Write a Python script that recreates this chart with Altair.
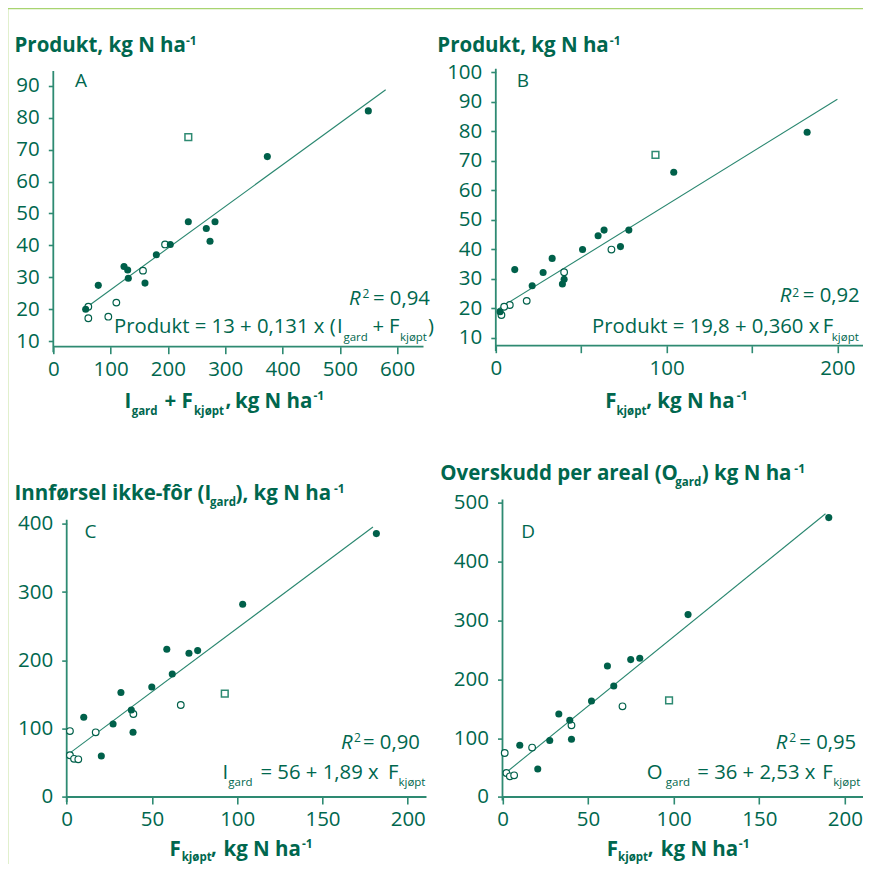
import altair as alt
import pandas as pd

FONT = "Open Sans"
TEXT_C = "#00674e"
PT_C = "#00604a"
AX_C = "#2e8a72"
LN_C = "#2a8770"
BORDER_C = "#a8d470"

# ---------------- data ----------------
# Panel A: Produkt vs Igard + Fkjøpt
A_fill_x = [549.7, 373.5, 235.6, 282.2, 267.0, 273.5, 204.2, 179.8, 123.4, 129.8, 130.9, 160.0, 78.5, 56.5]
A_fill_y = [82.1, 67.8, 47.4, 47.4, 45.3, 41.3, 40.3, 37.1, 33.4, 32.3, 29.7, 28.2, 27.5, 20.0]
A_open_x = [195.0, 156.5, 110.0, 96.0, 61.1, 61.1]
A_open_y = [40.3, 32.1, 22.1, 17.7, 17.2, 20.8]
A_sq_x = [235.6]
A_sq_y = [73.9]
A_line_x = [57, 580]
A_line_y = [20.5, 88.7]

# Panel B: Produkt vs Fkjøpt
B_fill_x = [182.3, 104.2, 77.9, 63.4, 59.9, 73.0, 50.8, 33.0, 11.1, 27.7, 40.0, 39.0, 21.3, 2.5]
B_fill_y = [79.7, 66.1, 46.5, 46.5, 44.6, 40.9, 39.9, 36.9, 33.1, 32.1, 29.8, 28.2, 27.6, 18.8]
B_open_x = [67.7, 40.0, 18.1, 8.2, 4.9, 3.3]
B_open_y = [39.9, 32.2, 22.5, 21.1, 20.5, 17.7]
B_sq_x = [93.5]
B_sq_y = [72.0]
B_line_x = [0.5, 200]
B_line_y = [19.4, 90.9]

# Panel C: Igard vs Fkjøpt
C_fill_x = [181.6, 103.2, 58.7, 71.7, 76.8, 61.9, 49.9, 31.8, 37.9, 10.0, 27.2, 38.9, 20.3]
C_fill_y = [385.6, 282.1, 216.3, 210.4, 214.3, 180.1, 161.1, 152.9, 127.4, 116.7, 106.9, 94.7, 60.0]
C_open_x = [66.9, 39.1, 17.0, 1.9, 4.3, 6.8, 1.9]
C_open_y = [134.7, 121.5, 94.7, 61.1, 55.9, 55.2, 96.5]
C_sq_x = [92.7]
C_sq_y = [151.4]
C_line_x = [1.4, 179.6]
C_line_y = [63.5, 395.3]

# Panel D: Ogard vs Fkjøpt
D_fill_x = [190.6, 108.4, 61.3, 74.9, 80.2, 65.0, 52.0, 32.9, 39.3, 27.6, 40.3, 10.1, 20.6]
D_fill_y = [474.4, 309.7, 222.4, 233.3, 235.5, 188.5, 163.0, 141.0, 130.2, 95.8, 98.0, 87.8, 47.5]
D_open_x = [70.1, 40.3, 17.3, 1.3, 2.3, 4.3, 6.8]
D_open_y = [154.0, 121.7, 83.9, 74.7, 40.7, 35.1, 36.8]
D_sq_x = [97.3]
D_sq_y = [164.2]
D_line_x = [1.3, 188.7]
D_line_y = [39.7, 481.0]

A_xticks = [0, 100, 200, 300, 400, 500, 600]
A_yticks = [10, 20, 30, 40, 50, 60, 70, 80, 90]
B_xticks = [0, 50, 100, 150, 200]
B_yticks = [10, 20, 30, 40, 50, 60, 70, 80, 90, 100]
C_xticks = [0, 50, 100, 150, 200]
C_yticks = [0, 100, 200, 300, 400]
D_xticks = [0, 50, 100, 150, 200]
D_yticks = [0, 100, 200, 300, 400, 500]

DUMMY = pd.DataFrame({"a": [0]})

# text pieces: (page x, page baseline y, text, size, weight, style)
B_ = "bold"
N_ = "normal"
I_ = "italic"
TS = 20.5    # bold titles
TSUB = 11.5  # bold subscripts
TSUP = 12    # superscripts
ES = 20.3    # equation text
ESUB = 11.5  # equation subscripts
LS = 19      # panel letters

TXT_A = [
    (15.5, 51.7, "Produkt, kg N ha", TS, B_, N_),
    (187.0, 45.0, "-1", TSUP, B_, N_),
    (76.0, 87.3, "A", LS, N_, N_),
    (350.0, 305.0, "R", ES, N_, I_),
    (363.5, 297.5, "2", TSUP, N_, N_),
    (374.0, 305.0, "= 0,94", ES, N_, N_),
    (115.0, 333.3, "Produkt = 13 + 0,131 x (", ES, N_, N_),
    (338.0, 333.3, "I", ES, N_, N_),
    (344.5, 340.5, "gard", ESUB, N_, N_),
    (373.5, 333.3, "+", ES, N_, N_),
    (390.0, 333.3, "F", ES, N_, N_),
    (401.0, 340.5, "kjøpt", ESUB, N_, N_),
    (429.0, 333.3, ")", ES, N_, N_),
    (125.5, 408.3, "I", TS, B_, N_),
    (132.7, 415.0, "gard", TSUB, B_, N_),
    (165.5, 408.3, "+ F", TS, B_, N_),
    (195.0, 415.0, "kjøpt", TSUB, B_, N_),
    (226.5, 406.0, ",", TS, B_, N_),
    (236.0, 408.3, "kg N ha", TS, B_, N_),
    (314.5, 400.0, "-1", TSUP, B_, N_),
]
TXT_B = [
    (437.5, 51.7, "Produkt, kg N ha", TS, B_, N_),
    (610.0, 45.0, "-1", TSUP, B_, N_),
    (517.0, 86.5, "B", LS, N_, N_),
    (780.0, 301.7, "R", ES, N_, I_),
    (792.5, 297.0, "2", TSUP, N_, N_),
    (803.0, 301.7, "= 0,92", ES, N_, N_),
    (592.3, 333.3, "Produkt = 19,8 + 0,360 x", ES, N_, N_),
    (823.0, 333.3, "F", ES, N_, N_),
    (832.0, 340.5, "kjøpt", ESUB, N_, N_),
    (605.5, 408.3, "F", TS, B_, N_),
    (616.7, 415.0, "kjøpt", TSUB, B_, N_),
    (646.5, 406.0, ",", TS, B_, N_),
    (657.5, 408.3, "kg N ha", TS, B_, N_),
    (737.0, 400.0, "-1", TSUP, B_, N_),
]
TXT_C = [
    (15.5, 500.0, "Innførsel ikke-fôr (I", TS, B_, N_),
    (211.0, 506.0, "gard", TSUB, B_, N_),
    (236.5, 500.0, "), kg N ha", TS, B_, N_),
    (335.0, 493.0, "-1", TSUP, B_, N_),
    (85.5, 537.3, "C", LS, N_, N_),
    (342.0, 748.3, "R", ES, N_, I_),
    (355.0, 741.5, "2", TSUP, N_, N_),
    (364.0, 748.3, "= 0,90", ES, N_, N_),
    (223.5, 778.3, "I", ES, N_, N_),
    (229.3, 785.5, "gard", ESUB, N_, N_),
    (261.5, 778.3, "= 56 + 1,89 x", ES, N_, N_),
    (388.9, 778.3, "F", ES, N_, N_),
    (399.5, 785.5, "kjøpt", ESUB, N_, N_),
    (170.5, 855.5, "F", TS, B_, N_),
    (182.7, 861.0, "kjøpt", TSUB, B_, N_),
    (212.0, 853.5, ",", TS, B_, N_),
    (224.5, 855.5, "kg N ha", TS, B_, N_),
    (303.0, 847.5, "-1", TSUP, B_, N_),
]
TXT_D = [
    (440.5, 480.0, "Overskudd per areal (O", TS, B_, N_),
    (675.5, 486.0, "gard", TSUB, B_, N_),
    (702.0, 480.0, ") kg N ha", TS, B_, N_),
    (794.5, 473.0, "-1", TSUP, B_, N_),
    (521.5, 537.3, "D", LS, N_, N_),
    (776.0, 748.3, "R", ES, N_, I_),
    (789.5, 741.5, "2", TSUP, N_, N_),
    (799.5, 748.3, "= 0,95", ES, N_, N_),
    (647.0, 778.3, "O", ES, N_, N_),
    (666.0, 785.5, "gard", ESUB, N_, N_),
    (697.5, 778.3, "= 36 + 2,53 x", ES, N_, N_),
    (822.5, 778.3, "F", ES, N_, N_),
    (833.5, 785.5, "kjøpt", ESUB, N_, N_),
    (607.0, 855.5, "F", TS, B_, N_),
    (618.3, 861.0, "kjøpt", TSUB, B_, N_),
    (648.0, 853.5, ",", TS, B_, N_),
    (661.0, 855.5, "kg N ha", TS, B_, N_),
    (739.0, 847.5, "-1", TSUP, B_, N_),
]

PANELS = {
    "A": dict(origin=(54.3, 70.0), xdom=[0, 646], ydom=[8.3, 94.9], w=370.2, h=276.7,
              xticks=A_xticks, yticks=A_yticks, yoff=0, xlab="datum.label",
              vline=[6.6, 94.6], hline=[0, 646, 8.3],
              fill=(A_fill_x, A_fill_y), opn=(A_open_x, A_open_y), sq=(A_sq_x, A_sq_y),
              line=(A_line_x, A_line_y), txt=TXT_A),
    "B": dict(origin=(496.0, 70.0), xdom=[0, 216], ydom=[7.29, 100.8], w=368.9, h=275.7,
              xticks=B_xticks, yticks=B_yticks, yoff=0,
              xlab="datum.value % 100 === 0 ? datum.label : ''",
              vline=[5.5, 101.2], hline=[0, 216, 7.29],
              fill=(B_fill_x, B_fill_y), opn=(B_open_x, B_open_y), sq=(B_sq_x, B_sq_y),
              line=(B_line_x, B_line_y), txt=TXT_B),
    "C": dict(origin=(54.3, 499.3), xdom=[-7.86, 211], ydom=[0, 435.4], w=373.2, h=297.4,
              xticks=C_xticks, yticks=C_yticks, yoff=-13.4, xlab="datum.label",
              vline=[-7.5, 406], hline=[0, 211, 0],
              fill=(C_fill_x, C_fill_y), opn=(C_open_x, C_open_y), sq=(C_sq_x, C_sq_y),
              line=(C_line_x, C_line_y), txt=TXT_C),
    "D": dict(origin=(496.0, 499.3), xdom=[-3.91, 211], ydom=[0, 505], w=367.9, h=297.4,
              xticks=D_xticks, yticks=D_yticks, yoff=-6.7, xlab="datum.label",
              vline=[-6.0, 505], hline=[0, 211, 0],
              fill=(D_fill_x, D_fill_y), opn=(D_open_x, D_open_y), sq=(D_sq_x, D_sq_y),
              line=(D_line_x, D_line_y), txt=TXT_D),
}


def make_panel(key, extra=None):
    P = PANELS[key]
    ox, oy = P["origin"]
    xsc = alt.Scale(domain=P["xdom"], nice=False, zero=False)
    ysc = alt.Scale(domain=P["ydom"], nice=False, zero=False)
    xax = alt.Axis(values=P["xticks"], title=None, domain=False, grid=False,
                   tickColor=AX_C, tickWidth=1.6, tickSize=7, labelPadding=6,
                   labelFont=FONT, labelFontSize=20.5, labelColor=TEXT_C,
                   labelExpr=P["xlab"], labelFlush=False, labelOverlap=False, format="d")
    yax = alt.Axis(values=P["yticks"], title=None, domain=False, grid=False,
                   tickColor=AX_C, tickWidth=1.6, tickSize=5, labelPadding=9,
                   labelFont=FONT, labelFontSize=20.5, labelColor=TEXT_C,
                   offset=P["yoff"], labelFlush=False, labelOverlap=False, format="d")

    def X(f):
        return alt.X(f"{f}:Q", scale=xsc, axis=xax)

    def Y(f):
        return alt.Y(f"{f}:Q", scale=ysc, axis=yax)

    v0, v1 = P["vline"]
    h0, h1, hy = P["hline"]
    vrule = alt.Chart(pd.DataFrame({"x": [0], "y": [v0], "y2": [v1]})).mark_rule(
        color=AX_C, strokeWidth=1.8).encode(x=X("x"), y=Y("y"), y2="y2:Q")
    hrule = alt.Chart(pd.DataFrame({"x": [h0], "x2": [h1], "y": [hy]})).mark_rule(
        color=AX_C, strokeWidth=1.8).encode(x=X("x"), x2="x2:Q", y=Y("y"))

    lx, ly = P["line"]
    reg = alt.Chart(pd.DataFrame({"x": lx, "y": ly})).mark_line(
        color=LN_C, strokeWidth=1.1).encode(x=X("x"), y=Y("y"))

    fx, fy = P["fill"]
    filled = alt.Chart(pd.DataFrame({"x": fx, "y": fy})).mark_point(
        shape="circle", filled=True, color=PT_C, size=50, opacity=1).encode(x=X("x"), y=Y("y"))
    qx, qy = P["opn"]
    opened = alt.Chart(pd.DataFrame({"x": qx, "y": qy})).mark_point(
        shape="circle", fill="white", fillOpacity=1, stroke=PT_C, strokeWidth=1.2,
        size=44, opacity=1).encode(x=X("x"), y=Y("y"))
    sx, sy = P["sq"]
    square = alt.Chart(pd.DataFrame({"x": sx, "y": sy})).mark_point(
        shape="square", fill="white", fillOpacity=1, stroke=AX_C, strokeWidth=1.5,
        size=45, opacity=1).encode(x=X("x"), y=Y("y"))

    layers = [vrule, hrule, reg, opened, square, filled]
    for (px, py, s, size, weight, style) in P["txt"]:
        layers.append(
            alt.Chart(DUMMY).mark_text(text=s, font=FONT, fontSize=size, fontWeight=weight,
                                       fontStyle=style, color=TEXT_C, align="left",
                                       baseline="alphabetic")
            .encode(x=alt.value(px - ox), y=alt.value(py - oy))
        )
    if extra:
        layers.extend(extra(ox, oy))
    return alt.layer(*layers).properties(width=P["w"], height=P["h"])


def border(ox, oy):
    v = alt.Chart(DUMMY).mark_rule(color=BORDER_C, strokeWidth=1.5).encode(
        x=alt.value(8.6 - ox), y=alt.value(8.6 - oy), y2=alt.value(885.0 - oy))
    h = alt.Chart(DUMMY).mark_rule(color=BORDER_C, strokeWidth=1.5).encode(
        x=alt.value(8.6 - ox), x2=alt.value(885.0 - ox), y=alt.value(8.6 - oy))
    return [v, h]


chart = alt.concat(
    make_panel("A", border), make_panel("B"), make_panel("C"), make_panel("D"),
    columns=2, spacing={"row": 152.6, "column": 68.5}, bounds="flush", align="each",
).properties(
    padding={"left": -1.7, "top": -1, "right": -22.5, "bottom": -22.5},
    background="white",
).configure_view(stroke=None)

chart.save("out.html", embed_options={"renderer": "svg", "actions": False})
